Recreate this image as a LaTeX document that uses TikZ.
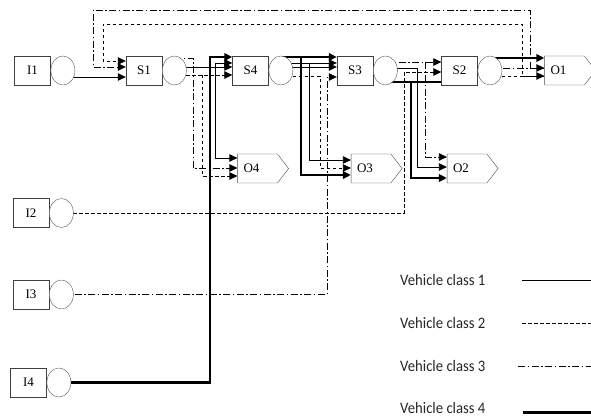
\documentclass[tikz,border=0pt]{standalone}
\usepackage{fontspec}
\setmainfont{Liberation Serif}
\newfontfamily\leyenda{Carlito}
\usetikzlibrary{positioning,shapes.geometric,shapes.symbols,arrows.meta,backgrounds}
\tikzset{
  caja/.style={draw=black!75, fill=white, minimum width=36pt, minimum height=29pt,
    inner sep=0pt, font=\fontsize{13}{15}\selectfont},
  cola/.style={ellipse, draw=black!65, fill=white, minimum width=24pt,
    minimum height=29pt, inner sep=0pt},
  salida/.style={signal, signal to=east, signal pointer angle=105, draw=black!70,
    fill=white, minimum width=51pt, minimum height=29pt, inner sep=0pt,
    font=\fontsize{13}{15}\selectfont, execute at end node=\hspace*{12pt}},
  ley/.style={anchor=west, inner sep=0pt, text=black!85,
    font=\leyenda\fontsize{16}{18}\selectfont},
  c1/.style={line width=0.8pt},
  c2/.style={line width=0.8pt, dash pattern=on 3.5pt off 2.5pt},
  c3/.style={line width=0.8pt, dash pattern=on 7pt off 2.5pt on 1.5pt off 2.5pt},
  c4/.style={line width=2.4pt},
  fl/.style={-{Triangle[length=8pt,width=7.5pt]}}
}
\begin{document}
\begin{tikzpicture}[x=1pt,y=-1pt]
  \useasboundingbox (0,0) rectangle (591,419);
  % Entradas
  \node[caja] (I1) at (32.5,70.5) {I1};
  \node[cola, right=0pt of I1] (cI1) {};
  \node[caja] (I2) at (31,213) {I2};
  \node[cola, right=0pt of I2] (cI2) {};
  \node[caja] (I3) at (31,294.5) {I3};
  \node[cola, right=0pt of I3] (cI3) {};
  \node[caja] (I4) at (28.5,382.5) {I4};
  \node[cola, right=0pt of I4] (cI4) {};
  % Estaciones
  \node[caja] (S1) at (144,70.5) {S1};
  \node[cola, right=0pt of S1] (cS1) {};
  \node[caja] (S4) at (250.5,70.5) {S4};
  \node[cola, right=0pt of S4] (cS4) {};
  \node[caja] (S3) at (355,70.5) {S3};
  \node[cola, right=0pt of S3] (cS3) {};
  \node[caja] (S2) at (459.5,70.5) {S2};
  \node[cola, right=0pt of S2] (cS2) {};
  % Salidas
  \node[salida] (O1) at (564.5,70.5) {O1};
  \node[salida] (O4) at (257.5,168.5) {O4};
  \node[salida] (O3) at (371,168.5) {O3};
  \node[salida] (O2) at (467,168.5) {O2};

  \begin{scope}[on background layer]
    % Clase 1
    \draw[c1,fl] (cI1.center |- 0,77) -- (S1.west |- 0,77);
    \draw[c1,fl] (cS1.center |- 0,67) -- (S4.west |- 0,67);
    \draw[c1,fl] (215,63) -- (S4.west |- 0,63);
    \draw[c1,fl] (215,63) |- (O4.west |- 0,158);
    \draw[c1,fl] (cS4.center |- 0,63) -- (S3.west |- 0,63);
    \draw[c1,fl] (cS4.center |- 0,67) -- (S3.west |- 0,67);
    \draw[c1,fl] (309,63) |- (O3.west |- 0,160);
    \draw[c1,fl] (cS3.center |- 0,68) -| (417,167) -- (O2.west |- 0,167);
    % Clase 2
    \draw[c2,fl] (O1.west |- 0,76) -| (522,24) -| (103,61) -- (S1.west |- 0,61);
    \draw[c2,fl] (cS1.center |- 0,75) -- (S4.west |- 0,75);
    \draw[c2,fl] (202,75) |- (O4.west |- 0,176);
    \draw[c2,fl] (cS4.center |- 0,76) -| (320,168) -- (O3.west |- 0,168);
    \draw[c2,fl] (cI2.center) -| (404,72) -- (S2.west |- 0,72);
    \draw[c2,fl] (cS2.center |- 0,76) -- (O1.west |- 0,76);
    % Clase 3
    \draw[c3,fl] (O1.west |- 0,68) -| (530,10) -| (93,67) -- (S1.west |- 0,67);
    \draw[c3,fl] (cS1.center |- 0,58) -| (193,168) -- (O4.west |- 0,168);
    \draw[c3,fl] (cI3.center) -| (327,77) -- (S3.west |- 0,77);
    \draw[c3,fl] (cS3.center |- 0,62) -- (S2.west |- 0,62);
    \draw[c3,fl] (425,62) |- (O2.west |- 0,157);
    \draw[c3,fl] (cS2.center |- 0,68) -- (O1.west |- 0,68);
    % Clase 4
    \draw[c4,fl] (cI4.center) -| (210,57) -- (S4.west |- 0,57);
    \draw[c4,fl] (cS4.center |- 0,57) -- (S3.west |- 0,57);
    \draw[c4,fl] (301,57) |- (O3.west |- 0,175);
    \draw[c4] (cS3.center |- 0,82) -- (S2.west |- 0,82);
    \draw[c4,fl] (411,82) |- (O2.west |- 0,178);
    \draw[c4,fl] (cS2.center |- 0,58) -- (O1.west |- 0,58);
  \end{scope}

  % Leyenda
  \node[ley] (v1) at (400,280) {\scalebox{0.92}[1]{Vehicle class 1}};
  \node[ley] (v2) at (400,323) {\scalebox{0.92}[1]{Vehicle class 2}};
  \node[ley] (v3) at (400,366) {\scalebox{0.92}[1]{Vehicle class 3}};
  \node[ley] (v4) at (400,408) {\scalebox{0.92}[1]{Vehicle class 4}};
  \draw[c1] (522,280) -- (591,280);
  \draw[c2] (522,323) -- (591,323);
  \draw[c3] (518,366) -- (591,366);
  \draw[c4, line width=3pt] (523,412) -- (591,412);
\end{tikzpicture}
\end{document}
